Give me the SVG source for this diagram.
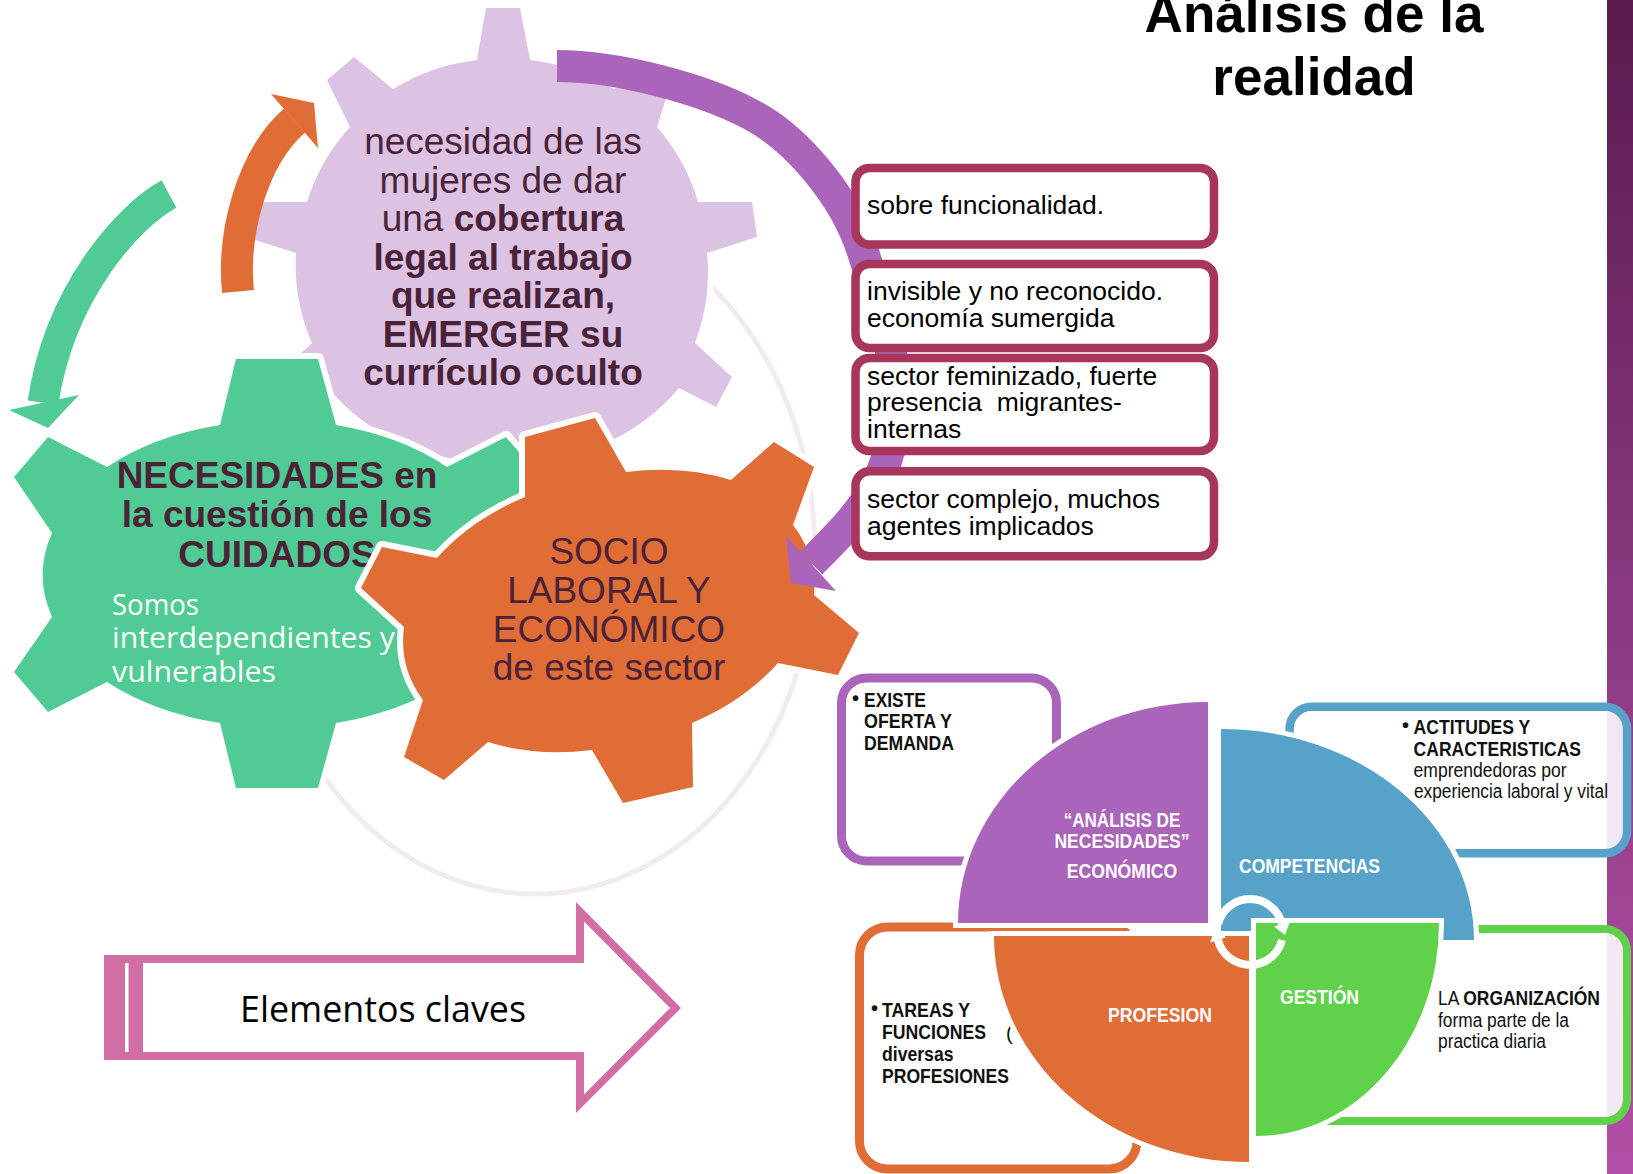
<svg xmlns="http://www.w3.org/2000/svg" width="1633" height="1174" viewBox="0 0 1633 1174">
<defs>
<linearGradient id="barGrad" x1="0" y1="0" x2="0" y2="1">
<stop offset="0" stop-color="#581A4C"/>
<stop offset="0.5" stop-color="#88397F"/>
<stop offset="1" stop-color="#B34FA6"/>
</linearGradient>
<style>
.gear{stroke:#fff;stroke-width:12;paint-order:stroke;stroke-linejoin:round}
.gtxt{font-family:"Liberation Sans",Arial,sans-serif;font-size:37px;fill:#4B2338;text-anchor:middle}
.b{font-weight:bold}
.box{fill:#fff;stroke:#A7355C;stroke-width:8.5}
.btxt{font-family:"Liberation Sans",Arial,sans-serif;font-size:26.5px;fill:#000}
.ntxt{font-family:"Liberation Sans Narrow","Liberation Sans",Arial,sans-serif;font-size:20px;fill:#111}
.qtxt{font-family:"Liberation Sans Narrow","Liberation Sans",Arial,sans-serif;font-size:20px;font-weight:bold;fill:#fff}
.quad{stroke:#fff;stroke-width:10;paint-order:stroke}
.band{fill:none;stroke-linecap:butt}
.hum{font-family:"Open Sans","DejaVu Sans",sans-serif}
</style>
</defs>
<rect x="0" y="0" width="1633" height="1174" fill="#fff"/>
<rect id="side-bar" x="1607" y="0" width="26" height="1174" fill="url(#barGrad)"/>

<g id="background-ring">
<ellipse cx="535" cy="552" rx="280" ry="342" fill="none" stroke="#F2EBEF" stroke-width="5"/>
</g>

<g id="gear-lilac">
<path class="gear" fill="#DCC2E3" d="M477,60 L486,8 L520,8 L530,60 A205,200 0 0 1 614,89 L640,76 L668,92 L657,127 A205,200 0 0 1 698,202 L752,202 L757,237 L707,253 A205,200 0 0 1 695,343 L732,377 L716,407 L679,388 A205,200 0 0 1 530,461 L520,512 L486,512 L477,461 A205,200 0 0 1 328,388 L291,407 L275,377 L312,343 A205,200 0 0 1 296,253 L255,240 L255,202 L307,202 A205,200 0 0 1 350,127 L327,80 L354,57 L393,89 A205,200 0 0 1 477,60 Z"/>
<text class="gtxt" x="503" y="154">necesidad de las</text>
<text class="gtxt" x="503" y="193">mujeres de dar</text>
<text class="gtxt" x="503" y="231">una <tspan class="b">cobertura</tspan></text>
<text class="gtxt b" x="503" y="270">legal al trabajo</text>
<text class="gtxt b" x="503" y="308">que realizan,</text>
<text class="gtxt b" x="503" y="347">EMERGER su</text>
<text class="gtxt b" x="503" y="385">currículo oculto</text>
</g>

<g id="gear-green">
<path class="gear" fill="#50CB96" d="M220,425 L236,359 L318,359 L336,425 A236,152 0 0 1 447,467 L506,437 L540,477 L502,533 A236,152 0 0 1 502,615 L540,672 L506,712 L447,682 A236,152 0 0 1 336,723 L318,788 L236,788 L220,723 A236,152 0 0 1 107,682 L48,712 L14,672 L52,617 A236,152 0 0 1 52,533 L14,477 L48,437 L107,467 A236,152 0 0 1 220,425 Z"/>
<text class="gtxt b" x="277" y="488">NECESIDADES en</text>
<text class="gtxt b" x="277" y="527">la cuestión de los</text>
<text class="gtxt b" x="277" y="567">CUIDADOS</text>
<text class="hum" x="112" y="615" font-size="30" fill="#fff" textLength="87" lengthAdjust="spacingAndGlyphs">Somos</text>
<text class="hum" x="112" y="648" font-size="30" fill="#fff" textLength="283" lengthAdjust="spacingAndGlyphs">interdependientes y</text>
<text class="hum" x="112" y="682" font-size="30" fill="#fff" textLength="164" lengthAdjust="spacingAndGlyphs">vulnerables</text>
</g>

<g id="gear-orange">
<path class="gear" fill="#E06C36" d="M404,627 L361,588 L382,547 L437,558 A203,140 -15 0 1 525,497 L525,437 L595,418 L626,472 A203,140 -15 0 1 731,480 L774,442 L814,467 L793,525 A203,140 -15 0 1 814,595 L859,633 L838,675 L778,663 A203,140 -15 0 1 692,723 L693,787 L623,803 L592,750 A203,140 -15 0 1 488,742 L444,780 L404,757 L423,700 A203,140 -15 0 1 404,627 Z"/>
<text class="gtxt" x="609" y="564">SOCIO</text>
<text class="gtxt" x="609" y="603">LABORAL Y</text>
<text class="gtxt" x="609" y="642">ECONÓMICO</text>
<text class="gtxt" x="609" y="680">de este sector</text>
</g>

<g id="connectors">
<g id="arrow-green">
<path class="band" stroke="#50CB96" stroke-width="31" d="M169,194 C130,215 60,290 43,402.7"/>
<polygon fill="#50CB96" points="9,410 79,395 48,428"/>
</g>
<g id="arrow-orange">
<path class="band" stroke="#E06C36" stroke-width="32" d="M238,291.5 C232,231 253,157 294.5,120.5"/>
<polygon fill="#E06C36" points="271,94 314,103 318,148"/>
</g>
<g id="arrow-purple">
<path class="band" stroke="#AA65BB" stroke-width="32" d="M557,66 C620,66 705,90 750,114 C795,137 845,195 863,252 C876,294 895,340 895,400 C895,480 860,514 811,563"/>
<polygon fill="#AA65BB" points="786,536 836,591 791,583"/>
</g>
</g>

<g id="title">
<text x="1314" y="32" font-family="Liberation Sans, Arial, sans-serif" font-size="53" font-weight="bold" text-anchor="middle" fill="#000">Análisis de la</text>
<text x="1314" y="95" font-family="Liberation Sans, Arial, sans-serif" font-size="53" font-weight="bold" text-anchor="middle" fill="#000">realidad</text>
</g>

<g id="box-funcionalidad">
<rect class="box" x="855.5" y="168" width="358.5" height="76.5" rx="14"/>
<text class="btxt" x="867" y="213.8">sobre funcionalidad.</text>
</g>
<g id="box-invisible">
<rect class="box" x="855.5" y="264" width="358.5" height="84" rx="14"/>
<text class="btxt" x="867" y="300.4">invisible y no reconocido.</text>
<text class="btxt" x="867" y="327.4">economía sumergida</text>
</g>
<g id="box-feminizado">
<rect class="box" x="855.5" y="358" width="358.5" height="93" rx="14"/>
<text class="btxt" x="867" y="384.8">sector feminizado, fuerte</text>
<text class="btxt" x="867" y="411.4">presencia&#160; migrantes-</text>
<text class="btxt" x="867" y="438.4">internas</text>
</g>
<g id="box-complejo">
<rect class="box" x="855.5" y="471.3" width="358.5" height="85" rx="14"/>
<text class="btxt" x="867" y="507.6">sector complejo, muchos</text>
<text class="btxt" x="867" y="534.6">agentes implicados</text>
</g>

<g id="box-oferta">
<rect x="841.5" y="678" width="215" height="183" rx="25" fill="#fff" stroke="#AA65BB" stroke-width="9"/>
<text class="ntxt b" x="852" y="705" font-size="15">•</text>
<text class="ntxt b" x="864" y="706.7" textLength="62" lengthAdjust="spacingAndGlyphs">EXISTE</text>
<text class="ntxt b" x="864" y="728.3" textLength="88" lengthAdjust="spacingAndGlyphs">OFERTA Y</text>
<text class="ntxt b" x="864" y="750" textLength="90" lengthAdjust="spacingAndGlyphs">DEMANDA</text>
</g>
<g id="box-actitudes">
<rect x="1289.6" y="706.7" width="337.5" height="146.6" rx="22" fill="#fff" fill-opacity="0.88" stroke="#57A2C9" stroke-width="8.5"/>
<text class="ntxt b" x="1402" y="732" font-size="15">•</text>
<text class="ntxt b" x="1413.6" y="734" textLength="116.6" lengthAdjust="spacingAndGlyphs">ACTITUDES Y</text>
<text class="ntxt b" x="1413.6" y="755.7" textLength="167.4" lengthAdjust="spacingAndGlyphs">CARACTERISTICAS</text>
<text class="ntxt" x="1413.6" y="776.7" textLength="153" lengthAdjust="spacingAndGlyphs">emprendedoras por</text>
<text class="ntxt" x="1414" y="798.3" textLength="194" lengthAdjust="spacingAndGlyphs">experiencia laboral y vital</text>
</g>
<g id="box-tareas">
<rect x="859.5" y="927" width="277.5" height="242" rx="28" fill="#fff" stroke="#E06C36" stroke-width="9"/>
<text class="ntxt b" x="871" y="1015" font-size="15">•</text>
<text class="ntxt b" x="882" y="1016.7" textLength="88" lengthAdjust="spacingAndGlyphs">TAREAS Y</text>
<text class="ntxt b" x="882" y="1039.3" textLength="104" lengthAdjust="spacingAndGlyphs">FUNCIONES</text>
<text class="ntxt" x="1006" y="1040">(</text>
<text class="ntxt b" x="882" y="1061" textLength="71.5" lengthAdjust="spacingAndGlyphs">diversas</text>
<text class="ntxt b" x="882" y="1082.7" textLength="127" lengthAdjust="spacingAndGlyphs">PROFESIONES</text>
</g>
<g id="box-organizacion">
<rect x="1295" y="929" width="332" height="192" rx="22" fill="#fff" fill-opacity="0.88" stroke="#5FD14A" stroke-width="8"/>
<text class="ntxt" x="1438" y="1005" textLength="162" lengthAdjust="spacingAndGlyphs">LA <tspan font-weight="bold">ORGANIZACIÓN</tspan></text>
<text class="ntxt" x="1438" y="1026.7" textLength="131" lengthAdjust="spacingAndGlyphs">forma parte de la</text>
<text class="ntxt" x="1438" y="1048.3" textLength="108" lengthAdjust="spacingAndGlyphs">practica diaria</text>
</g>

<g id="quad-analisis">
<path class="quad" fill="#AA65BB" d="M1208,923 L958,923 A250,221 0 0 1 1208,702 Z"/>
<text class="qtxt" x="1122" y="826.7" text-anchor="middle" textLength="116.6" lengthAdjust="spacingAndGlyphs">“ANÁLISIS DE</text>
<text class="qtxt" x="1122" y="848.3" text-anchor="middle" textLength="135" lengthAdjust="spacingAndGlyphs">NECESIDADES”</text>
<text class="qtxt" x="1122" y="878.3" text-anchor="middle" textLength="110.4" lengthAdjust="spacingAndGlyphs">ECONÓMICO</text>
</g>
<g id="quad-competencias">
<path class="quad" fill="#57A2C9" d="M1221,940 L1221,729 A253,211 0 0 1 1474,940 Z"/>
<text class="qtxt" x="1239" y="873.3" textLength="141" lengthAdjust="spacingAndGlyphs">COMPETENCIAS</text>
</g>
<g id="quad-profesion">
<path class="quad" fill="#E06C36" d="M1249,936 L1249,1162 A255,226 0 0 1 994,936 Z"/>
<text class="qtxt" x="1108" y="1021.7" textLength="104" lengthAdjust="spacingAndGlyphs">PROFESION</text>
</g>
<g id="quad-gestion">
<path class="quad" fill="#5FD14A" d="M1256,923 L1439,923 A183,213 0 0 1 1256,1136 Z"/>
<text class="qtxt" x="1280" y="1004.3" textLength="79" lengthAdjust="spacingAndGlyphs">GESTIÓN</text>
</g>

<g id="cycle-icon">
<path d="M1218,924 A33,33 0 0 1 1282,924" fill="none" stroke="#fff" stroke-width="8"/>
<path d="M1282,940 A33,33 0 0 1 1218,940" fill="none" stroke="#fff" stroke-width="8"/>
<polygon fill="#fff" points="1290,921.5 1274,926.5 1285,935"/>
<polygon fill="#fff" points="1226,937.5 1210,942.5 1215,929"/>
</g>

<g id="elementos-claves">
<polygon fill="#D16EA3" points="104,955 576,955 576,902 681,1008 576,1113 576,1060 104,1060"/>
<polygon fill="#fff" points="143,963 584,963 584,921.5 670,1008 584,1094.5 584,1052 143,1052"/>
<rect x="125" y="963" width="3.5" height="89" fill="#fff"/>
<text class="hum" x="383" y="1022" font-size="36" fill="#000" text-anchor="middle" textLength="286" lengthAdjust="spacingAndGlyphs">Elementos claves</text>
</g>
</svg>
